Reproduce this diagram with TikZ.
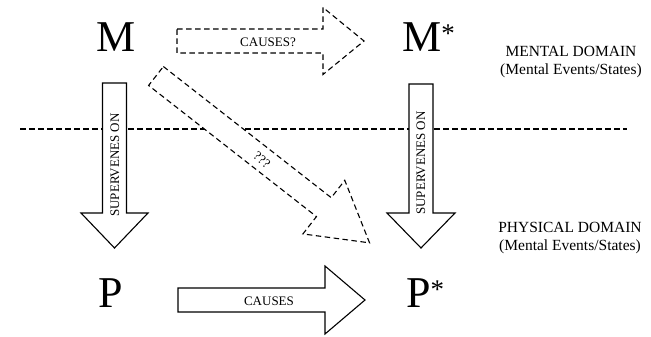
\documentclass[tikz,border=0pt]{standalone}
\usepackage{fontspec}
\setmainfont{Liberation Serif}
% #1 style, #2 start point, #3 angle, #4 shaft length, #5 head length, #6 head half-width
\newcommand\fatarr[6]{%
  \draw[#1, shift={#2}, rotate=#3]
    (0,-12) -- (#4,-12) -- (#4,-#6) -- ({#4+#5},0) -- (#4,#6) -- (#4,12) -- (0,12) -- cycle;}
\newcommand\smallstar{\raisebox{9pt}{\fontsize{27}{27}\selectfont *}}
\begin{document}
\begin{tikzpicture}[x=1pt,y=-1pt,
  arr/.style={draw=black, fill=white, line width=1.1pt, line join=miter},
  dasharr/.style={arr, dash pattern=on 5.5pt off 3.5pt},
  divider/.style={draw=black, line width=1.1pt, dash pattern=on 5.5pt off 3.5pt},
  big/.style={font=\fontsize{44}{48}\selectfont, inner sep=0pt},
  lbl/.style={font=\fontsize{13}{15}\selectfont, inner sep=0pt},
  dom/.style={font=\fontsize{15.5}{18}\selectfont, align=center, inner sep=0pt}]
\useasboundingbox (0,0) rectangle (651,337);

% domain divider
\coordinate (l1) at (20,129);
\coordinate (l2) at (627,129);
\draw[divider] (l1) -- (l2);

% arrows
\fatarr{arr}{(114.5,83)}{-90}{130}{35}{33.5}
\fatarr{arr}{(421,84)}{-90}{129}{35}{34}
\fatarr{dasharr}{(177,41)}{0}{146}{41}{33.5}
\fatarr{arr}{(178,300)}{0}{147}{40}{34}
\fatarr{dasharr}{(156,76)}{-38}{213}{58}{34}

% letters
\node[big] (M) at (116,37) {M};
\node[big, anchor=west] (Ms) at (402,37) {M\smallstar};
\node[big] (P) at (111,293) {P};
\node[big, anchor=west] (Ps) at (406,293) {P\smallstar};

% arrow labels
\node[lbl] (c1) at (268,42) {CAUSES?};
\node[lbl] (c2) at (269,301) {CAUSES};
\node[lbl, rotate=90] (s1) at (115,165) {SUPERVENES ON};
\node[lbl, rotate=90] (s2) at (421,163) {SUPERVENES ON};
\node[lbl, rotate=-38] (q) at (262,160) {???};

% domain labels
\node[dom] (md) at (571,62) {MENTAL DOMAIN\\(Mental Events/States)};
\node[dom] (pd) at (570,238) {PHYSICAL DOMAIN\\(Mental Events/States)};
\end{tikzpicture}
\end{document}
